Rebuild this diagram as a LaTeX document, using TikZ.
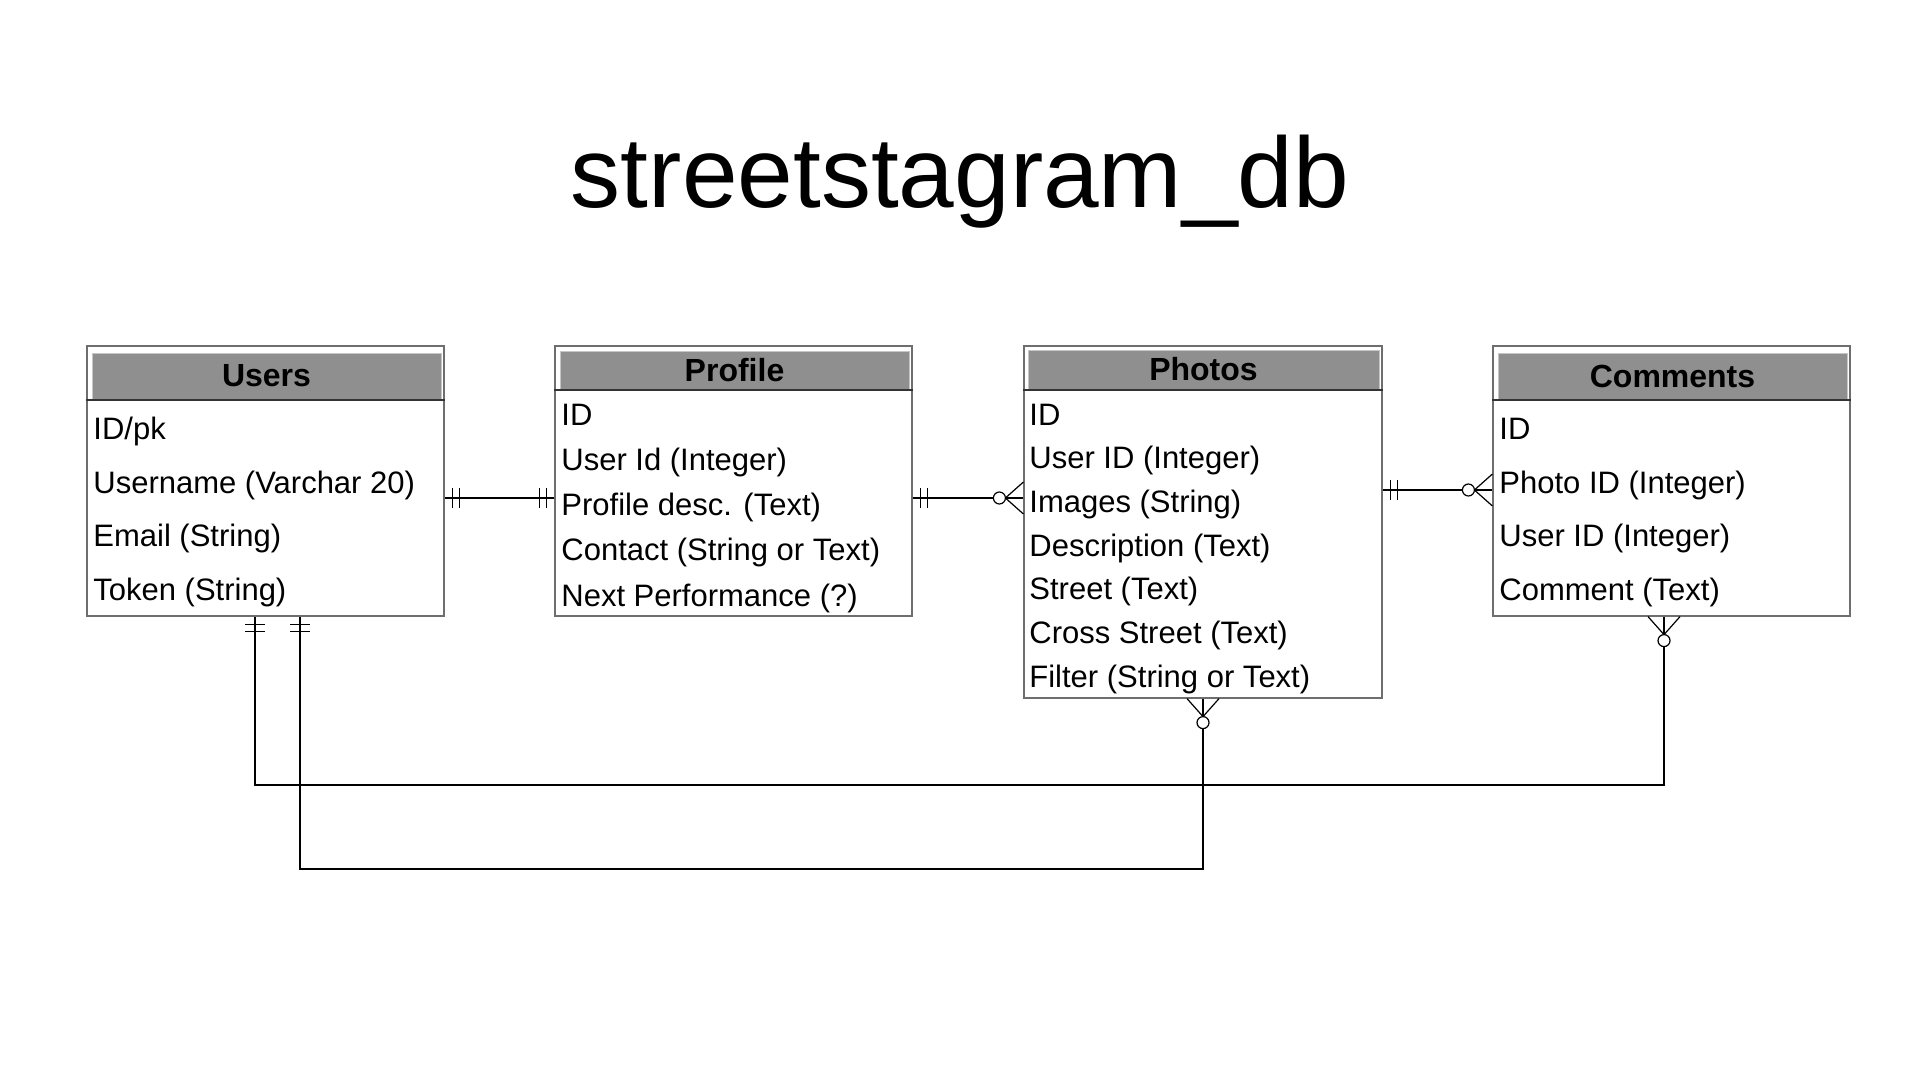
\documentclass[tikz,border=0pt]{standalone}
\usepackage[]{color}
\usepackage{fontspec}
\setmainfont{Liberation Sans}
\usepackage{tikz}

\definecolor{headgray}{HTML}{8F8F8F}
\definecolor{boxline}{HTML}{6E6E6E}

\tikzset{
  tablebox/.style = {draw = boxline, line width = 0.6pt, fill = white, inner sep = 0pt},
  headbox/.style = {draw = gray!45, fill = headgray, inner sep = 0pt,
    font = \fontsize{16}{18}\selectfont\bfseries},
  field/.style = {anchor = base west, inner sep = 0pt, font = \fontsize{15.5}{18}\selectfont},
  divider/.style = {line width = 0.9pt, color = black!80},
  rel/.style = {line width = 0.9pt},
  onemark/.pic = {\draw[line width = 0.8pt] (8, -10) -- (8, 10) (15, -10) -- (15, 10);},
  manymark/.pic = {\draw[line width = 0.6pt] (0, -16) -- (18, 0) -- (0, 16);
    \draw[line width = 0.6pt, fill = white] (24, 0) circle [radius = 3pt];}
}

\begin{document}
\begin{tikzpicture}[x = 0.5pt, y = -0.5pt]
\fill[white] (0, 0) rectangle (1920, 1080);
\useasboundingbox (0, 0) rectangle (1920, 1080);

\node[anchor = base, font = \fontsize{50}{60}\selectfont] (title) at (960, 208) {streetstagram\_db};

% tables
\node[tablebox, minimum width = 178.5pt, minimum height = 135pt] (users) at (265.5, 481) {};
\node[tablebox, minimum width = 178.5pt, minimum height = 135pt] (profile) at (733.5, 481) {};
\node[tablebox, minimum width = 179pt, minimum height = 176pt] (photos) at (1203, 522) {};
\node[tablebox, minimum width = 178.5pt, minimum height = 135pt] (comments) at (1671.5, 481) {};

\node[headbox, minimum width = 174.5pt, minimum height = 23pt] (usershead) at (266.5, 376) {Users};
\node[headbox, minimum width = 174.5pt, minimum height = 19pt] (profilehead) at (734.5, 370) {Profile};
\node[headbox, minimum width = 175.5pt, minimum height = 19.5pt] (photoshead) at (1203.5, 369.5) {Photos};
\node[headbox, minimum width = 174.5pt, minimum height = 23pt] (commentshead) at (1672.5, 376) {Comments};

\draw[divider] (users.west |- 0,400) -- (users.east |- 0,400);
\draw[divider] (profile.west |- 0,390) -- (profile.east |- 0,390);
\draw[divider] (photos.west |- 0,390) -- (photos.east |- 0,390);
\draw[divider] (comments.west |- 0,400) -- (comments.east |- 0,400);

\foreach \t [count = \i] in {ID/pk, Username (Varchar 20), Email (String), Token (String)}
  \node[field] (users\i) at (93, {386 + 53.5*\i}) {\t};
\foreach \t [count = \i] in {ID, User Id (Integer), Profile desc. (Text), Contact (String or Text), Next Performance (?)}
  \node[field] (profile\i) at (561, {379.75 + 45.25*\i}) {\t};
\foreach \t [count = \i] in {ID, User ID (Integer), Images (String), Description (Text), Street (Text), Cross Street (Text), Filter (String or Text)}
  \node[field] (photos\i) at (1029, {381.33 + 43.67*\i}) {\t};
\foreach \t [count = \i] in {ID, Photo ID (Integer), User ID (Integer), Comment (Text)}
  \node[field] (comments\i) at (1499, {386 + 53.5*\i}) {\t};

% relations
\draw[rel] (users.east |- 0,498) -- (profile.west |- 0,498);
\draw[rel] (profile.east |- 0,498) -- (photos.west |- 0,498);
\draw[rel] (photos.east |- 0,490) -- (comments.west |- 0,490);
\draw[rel] (users.south -| 255,0) -- ++(0, 168) -| (comments.south -| 1664,0);
\draw[rel] (users.south -| 300,0) -- ++(0, 252) -| (photos.south -| 1203,0);

\pic at (users.east |- 0,498) {onemark};
\pic[rotate = 180] at (profile.west |- 0,498) {onemark};
\pic at (profile.east |- 0,498) {onemark};
\pic[rotate = 180] at (photos.west |- 0,498) {manymark};
\pic at (photos.east |- 0,490) {onemark};
\pic[rotate = 180] at (comments.west |- 0,490) {manymark};
\pic[rotate = -90] at (users.south -| 255,0) {onemark};
\pic[rotate = -90] at (users.south -| 300,0) {onemark};
\pic[rotate = -90] at (comments.south -| 1664,0) {manymark};
\pic[rotate = -90] at (photos.south -| 1203,0) {manymark};
\end{tikzpicture}
\end{document}
